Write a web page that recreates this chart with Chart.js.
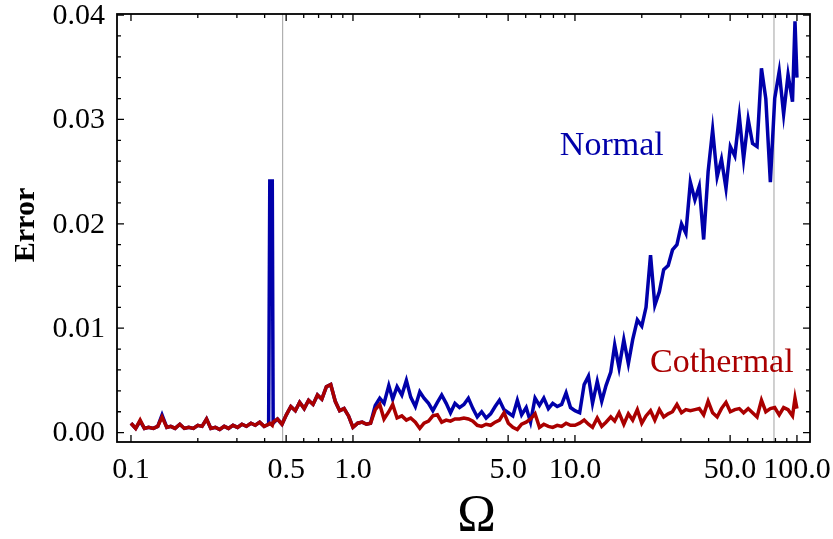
<!DOCTYPE html>
<html>
<head>
<meta charset="utf-8">
<script src="https://cdn.jsdelivr.net/npm/chart.js@4.4.1/dist/chart.umd.min.js"></script>
<style>
  html, body { margin: 0; padding: 0; background: #fff; }
</style>
</head>
<body>
<canvas id="chart" width="833" height="539"></canvas>
<script>
// Ω sample points (log spaced, plus a few extra around the spike and the last peak)
const omega = [
  0.100,0.105,0.110,0.115,0.120,0.126,0.132,0.138,0.145,0.151,
  0.158,0.166,0.174,0.182,0.191,0.200,0.209,0.219,0.229,0.240,
  0.251,0.263,0.275,0.288,0.302,0.316,0.331,0.347,0.363,0.380,
  0.398,0.417,0.422,0.433,0.437,0.457,0.479,0.501,0.525,0.550,
  0.575,0.603,0.631,0.661,0.692,0.724,0.759,0.794,0.832,0.871,
  0.912,0.955,1.00,1.05,1.10,1.15,1.20,1.26,1.32,1.38,
  1.45,1.51,1.58,1.66,1.74,1.82,1.91,2.00,2.09,2.19,
  2.29,2.40,2.51,2.63,2.75,2.88,3.02,3.16,3.31,3.47,
  3.63,3.80,3.98,4.17,4.37,4.57,4.79,5.01,5.25,5.50,
  5.75,6.03,6.31,6.61,6.92,7.24,7.59,7.94,8.32,8.71,
  9.12,9.55,10.0,10.5,11.0,11.5,12.0,12.6,13.2,13.8,
  14.5,15.1,15.8,16.6,17.4,18.2,19.1,20.0,20.9,21.9,
  22.9,24.0,25.1,26.3,27.5,28.8,30.2,31.6,33.1,34.7,
  36.3,38.0,39.8,41.7,43.7,45.7,47.9,50.1,52.5,55.0,
  57.5,60.3,63.1,66.1,69.2,72.4,75.9,79.4,83.2,87.1,
  91.2,95.5,98.0,100
];

const normalErr = [
  0.0009,0.0004,0.0011,0.0004,0.0005,0.0004,0.0006,0.0017,0.0005,0.0006,
  0.0004,0.0008,0.0004,0.0005,0.0004,0.0007,0.0006,0.0013,0.0004,0.0005,
  0.0003,0.0006,0.0004,0.0007,0.0005,0.0008,0.0006,0.0009,0.0007,0.0010,
  0.0006,0.0008,0.0241,0.0241,0.0009,0.0013,0.0008,0.0017,0.0025,0.0021,
  0.0029,0.0023,0.0031,0.0027,0.0036,0.0032,0.0044,0.0046,0.0030,0.0021,
  0.0023,0.0016,0.0005,0.0009,0.0010,0.0008,0.0009,0.0026,0.0033,0.0028,
  0.0045,0.0032,0.0044,0.0036,0.0050,0.0034,0.0025,0.0039,0.0033,0.0028,
  0.0021,0.0029,0.0036,0.0028,0.0019,0.0028,0.0024,0.0027,0.0033,0.0023,
  0.0015,0.0020,0.0014,0.0018,0.0025,0.0031,0.0022,0.0019,0.0016,0.0031,
  0.0017,0.0024,0.0010,0.0033,0.0026,0.0033,0.0023,0.0028,0.0025,0.0027,
  0.0038,0.0024,0.0021,0.0019,0.0046,0.0054,0.0028,0.0049,0.0030,0.0045,
  0.0058,0.0084,0.0062,0.0089,0.0066,0.0089,0.0108,0.0102,0.0120,0.0170,
  0.0122,0.0135,0.0156,0.0160,0.0175,0.0180,0.0200,0.0191,0.0240,0.0223,
  0.0236,0.0185,0.0250,0.0290,0.0245,0.0262,0.0234,0.0274,0.0265,0.0303,
  0.0262,0.0300,0.0277,0.0274,0.0349,0.0320,0.0240,0.0320,0.0346,0.0305,
  0.0343,0.0317,0.0394,0.0340
];

const cothermalErr = [
  0.0009,0.0004,0.0012,0.0004,0.0005,0.0004,0.0006,0.0015,0.0005,0.0006,
  0.0004,0.0008,0.0004,0.0005,0.0004,0.0007,0.0006,0.0013,0.0004,0.0005,
  0.0003,0.0006,0.0004,0.0007,0.0005,0.0008,0.0006,0.0009,0.0007,0.0010,
  0.0006,0.0008,0.0009,0.0007,0.0010,0.0013,0.0008,0.0017,0.0025,0.0021,
  0.0029,0.0023,0.0031,0.0027,0.0036,0.0032,0.0044,0.0046,0.0030,0.0021,
  0.0023,0.0016,0.0005,0.0009,0.0010,0.0008,0.0009,0.0022,0.0027,0.0013,
  0.0020,0.0027,0.0014,0.0016,0.0012,0.0014,0.0010,0.0004,0.0009,0.0011,
  0.0016,0.0017,0.0010,0.0012,0.0011,0.0013,0.0013,0.0014,0.0013,0.0011,
  0.0007,0.0006,0.0008,0.0007,0.0010,0.0012,0.0019,0.0009,0.0005,0.0003,
  0.0008,0.0010,0.0013,0.0018,0.0005,0.0008,0.0006,0.0005,0.0007,0.0006,
  0.0009,0.0007,0.0007,0.0009,0.0012,0.0008,0.0005,0.0014,0.0006,0.0010,
  0.0015,0.0011,0.0019,0.0008,0.0018,0.0012,0.0022,0.0009,0.0016,0.0021,
  0.0012,0.0022,0.0015,0.0018,0.0020,0.0027,0.0019,0.0022,0.0021,0.0022,
  0.0023,0.0017,0.0030,0.0019,0.0015,0.0023,0.0029,0.0020,0.0022,0.0023,
  0.0019,0.0023,0.0019,0.0015,0.0031,0.0020,0.0023,0.0024,0.0017,0.0024,
  0.0022,0.0016,0.0033,0.0023
];

// axis ticks
const xMajor = [0.1, 0.5, 1, 5, 10, 50, 100];
const xLabels = ['0.1', '0.5', '1.0', '5.0', '10.0', '50.0', '100.0'];
const xMinor = [0.2,0.3,0.4,0.6,0.7,0.8,0.9, 2,3,4,6,7,8,9, 20,30,40,60,70,80,90];
const yMajor = [0, 0.01, 0.02, 0.03, 0.04];
const yLabels = ['0.00', '0.01', '0.02', '0.03', '0.04'];
const yMinor = [0.002,0.004,0.006,0.008, 0.012,0.014,0.016,0.018,
                0.022,0.024,0.026,0.028, 0.032,0.034,0.036,0.038];

// vertical grey reference lines
const markers = [0.482, 78.8];

const BLUE = '#0000aa';
const RED  = '#aa0000';
const FONT = '"Liberation Serif", "DejaVu Serif", serif';

// ── Cornice, tacche e scritte ─────────────────────────────────────────────
const framePlugin = {
  id: 'frame',
  beforeDatasetsDraw(chart) {
    const { ctx, chartArea: a, scales: { x } } = chart;
    ctx.save();
    ctx.strokeStyle = '#b0b0b0';
    ctx.lineWidth = 1.2;
    markers.forEach(v => {
      const px = x.getPixelForValue(v);
      ctx.beginPath();
      ctx.moveTo(px, a.top);
      ctx.lineTo(px, a.bottom);
      ctx.stroke();
    });
    ctx.restore();
  },
  afterDatasetsDraw(chart) {
    const { ctx, chartArea: a, scales: { x, y } } = chart;
    ctx.save();
    ctx.strokeStyle = '#000';
    ctx.lineWidth = 1.3;

    const vTick = (v, len) => {
      const px = x.getPixelForValue(v);
      ctx.beginPath();
      ctx.moveTo(px, a.bottom); ctx.lineTo(px, a.bottom - len);
      ctx.moveTo(px, a.top);    ctx.lineTo(px, a.top + len);
      ctx.stroke();
    };
    const hTick = (v, len) => {
      const py = y.getPixelForValue(v);
      ctx.beginPath();
      ctx.moveTo(a.left, py);  ctx.lineTo(a.left + len, py);
      ctx.moveTo(a.right, py); ctx.lineTo(a.right - len, py);
      ctx.stroke();
    };
    xMajor.forEach(v => vTick(v, 7));
    xMinor.forEach(v => vTick(v, 4));
    yMajor.forEach(v => hTick(v, 7));
    yMinor.forEach(v => hTick(v, 4));

    ctx.lineWidth = 1.8;
    ctx.strokeRect(a.left, a.top, a.right - a.left, a.bottom - a.top);

    // tick labels
    ctx.fillStyle = '#000';
    ctx.font = '30px ' + FONT;
    ctx.textAlign = 'center';
    ctx.textBaseline = 'alphabetic';
    xMajor.forEach((v, i) => ctx.fillText(xLabels[i], x.getPixelForValue(v), a.bottom + 36));
    ctx.textAlign = 'right';
    ctx.textBaseline = 'middle';
    yMajor.forEach((v, i) => ctx.fillText(yLabels[i], a.left - 12, y.getPixelForValue(v) + 1));

    // curve labels
    ctx.font = '34px ' + FONT;
    ctx.textBaseline = 'alphabetic';
    ctx.textAlign = 'left';
    ctx.fillStyle = BLUE;
    ctx.fillText('Normal', x.getPixelForValue(8.55), y.getPixelForValue(0.0266));
    ctx.fillStyle = RED;
    ctx.fillText('Cothermal', x.getPixelForValue(21.8), y.getPixelForValue(0.0058));

    // axis titles
    ctx.fillStyle = '#000';
    ctx.textAlign = 'center';
    ctx.font = '52px ' + FONT;
    ctx.fillText('Ω', x.getPixelForValue(3.6), 531);

    ctx.translate(26, 225);
    ctx.rotate(-Math.PI / 2);
    ctx.textBaseline = 'middle';
    ctx.font = 'bold 30px ' + FONT;
    ctx.fillText('Error', 0, 0);
    ctx.restore();
  }
};

const ctx = document.getElementById('chart').getContext('2d');

new Chart(ctx, {
  type: 'line',
  data: {
    datasets: [
      {
        label: 'Cothermal',
        data: omega.map((w, i) => ({ x: w, y: cothermalErr[i] })),
        borderColor: RED,
        borderWidth: 3.5,
        pointRadius: 0,
        tension: 0,
        order: 0,
      },
      {
        label: 'Normal',
        data: omega.map((w, i) => ({ x: w, y: normalErr[i] })),
        borderColor: BLUE,
        borderWidth: 3.5,
        pointRadius: 0,
        tension: 0,
        order: 1,
      },
    ],
  },
  options: {
    responsive: false,
    animation: false,
    layout: { padding: { top: 14, right: 23, left: 0, bottom: 0 } },
    plugins: {
      legend: { display: false },
      tooltip: { enabled: false },
    },
    scales: {
      x: {
        type: 'logarithmic',
        min: 0.0865,
        max: 114.5,
        afterFit: s => { s.height = 97; },
        grid: { display: false, drawTicks: false },
        border: { display: false },
        ticks: { display: false },
      },
      y: {
        type: 'linear',
        min: -0.0009,
        max: 0.0401,
        afterFit: s => { s.width = 117; },
        grid: { display: false, drawTicks: false },
        border: { display: false },
        ticks: { display: false },
      },
    },
  },
  plugins: [framePlugin],
});
</script>
</body>
</html>
